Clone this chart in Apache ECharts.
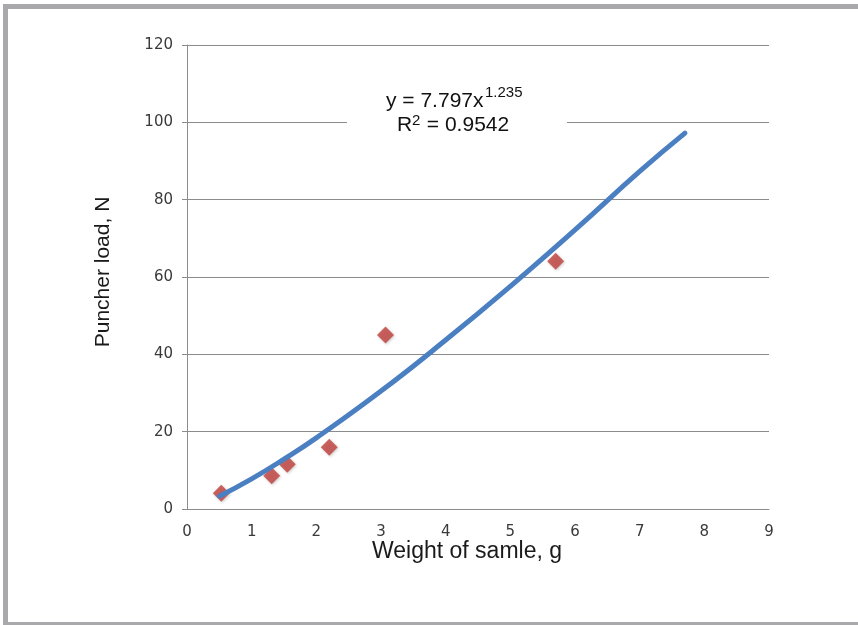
<!DOCTYPE html>
<html>
<head>
<meta charset="utf-8">
<script src="https://cdn.jsdelivr.net/npm/echarts@6/dist/echarts.min.js"></script>
<style>html,body{margin:0;padding:0;background:#fff}#c{width:858px;height:625px}</style>
</head>
<body>
<div id="c"></div>
<script>
var xTicks = [0, 1, 2, 3, 4, 5, 6, 7, 8, 9];
var yTicks = [0, 20, 40, 60, 80, 100, 120];
var sampleWeight = [0.53, 1.31, 1.55, 2.2, 3.07, 5.7];
var puncherLoad = [4.1, 8.6, 11.6, 16.0, 45.0, 64.1];
var trendX = [0.5, 1, 1.5, 2, 3, 4, 5, 6, 7, 7.7];
var trendY = [3.3, 7.8, 12.9, 18.4, 30.5, 43.7, 57.6, 72.2, 87.3, 97.2];

var chart = echarts.init(document.getElementById('c'), null, {renderer: 'canvas'});
var pts = sampleWeight.map(function (x, i) { return [x, puncherLoad[i]]; });
var trend = trendX.map(function (x, i) { return [x, trendY[i]]; });

var eqFont = 'Liberation Sans';
function txt(str, x, y, size) {
  return {type: 'text', x: x, y: y, z: 101,
    style: {text: str, fontFamily: eqFont, fontSize: size, fill: '#111', align: 'left', verticalAlign: 'middle'}};
}

chart.setOption({
  animation: false,
  backgroundColor: '#fff',
  grid: {left: 187, right: 89, top: 45, bottom: 116, containLabel: false},
  xAxis: {
    type: 'value', min: xTicks[0], max: xTicks[xTicks.length - 1], interval: 1,
    name: 'Weight of samle, g', nameLocation: 'middle', nameGap: 31, nameMoveOverlap: false,
    nameTextStyle: {fontFamily: 'Liberation Sans', fontSize: 23, color: '#1a1a1a', padding: [0, 22, 0, 0]},
    axisLine: {show: true, lineStyle: {color: '#8c8c8c', width: 1}},
    axisTick: {show: false},
    splitLine: {show: false},
    axisLabel: {margin: 16, fontFamily: 'DejaVu Sans', fontSize: 15, color: '#3a3a3a'}
  },
  yAxis: {
    type: 'value', min: yTicks[0], max: yTicks[yTicks.length - 1], interval: 20,
    name: 'Puncher load, N', nameLocation: 'middle', nameGap: 73, nameRotate: 90, nameMoveOverlap: false,
    nameTextStyle: {fontFamily: 'Liberation Sans', fontSize: 21, color: '#1a1a1a', padding: [0, 0, 0, 10]},
    axisLine: {show: true, lineStyle: {color: '#8c8c8c', width: 1}},
    axisTick: {show: true, inside: false, length: 5, lineStyle: {color: '#8c8c8c'}},
    splitLine: {show: true, lineStyle: {color: '#8c8c8c', width: 1}},
    axisLabel: {margin: 14, fontFamily: 'DejaVu Sans', fontSize: 15, color: '#3a3a3a'}
  },
  series: [
    {
      type: 'scatter', data: pts, symbol: 'diamond', symbolSize: 17,
      itemStyle: {color: '#c0403b', shadowColor: 'rgba(0,0,0,0.25)', shadowBlur: 3, shadowOffsetX: 1, shadowOffsetY: 1},
      z: 2
    },
    {
      type: 'line', data: trend, smooth: true, showSymbol: false,
      lineStyle: {color: '#4a7fc1', width: 5, cap: 'round'}, z: 3
    }
  ],
  graphic: [
    {type: 'rect', shape: {x: 3, y: 4, width: 855, height: 5}, style: {fill: '#a9a9ab'}, z: 100},
    {type: 'rect', shape: {x: 3, y: 4, width: 5, height: 621}, style: {fill: '#a9a9ab'}, z: 100},
    {type: 'rect', shape: {x: 3, y: 622, width: 855, height: 3}, style: {fill: '#a9a9ab'}, z: 100},
    {type: 'rect', shape: {x: 347, y: 84, width: 220, height: 54}, style: {fill: '#fff'}, z: 100},
    txt('y = 7.797x', 386, 101, 21),
    txt('1.235', 485, 93, 15),
    txt('R', 397, 125.5, 21),
    txt('2', 412, 120.5, 15),
    txt(' = 0.9542', 421, 125.5, 21)
  ]
});
</script>
</body>
</html>
